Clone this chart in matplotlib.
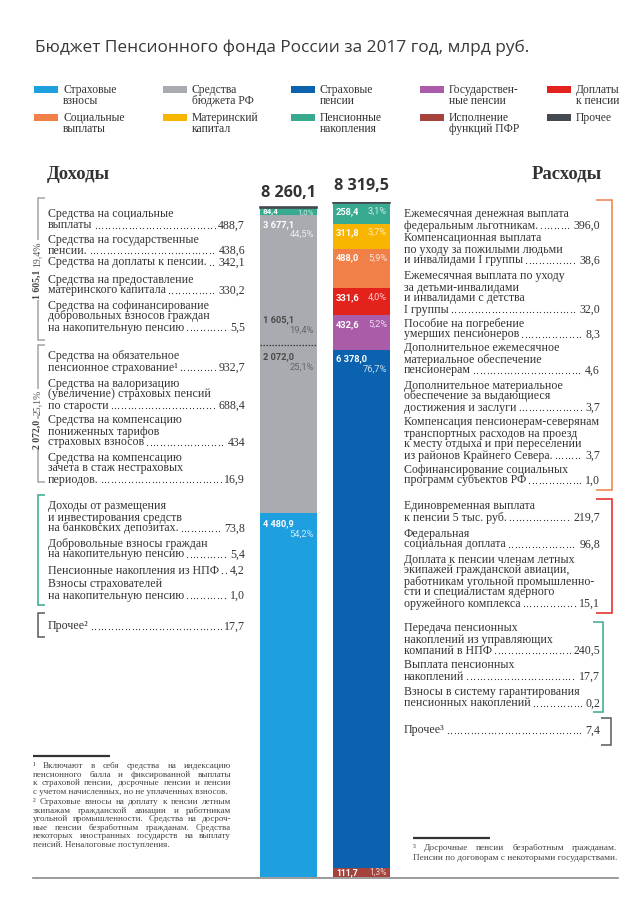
import numpy as np
import matplotlib
matplotlib.use("Agg")
import matplotlib.pyplot as plt
from matplotlib.font_manager import FontProperties
from matplotlib.patches import Rectangle

# ---------------- data ----------------
title = "Бюджет Пенсионного фонда России за 2017 год, млрд руб."

legend_labels = [["Страховые", "взносы"], ["Средства", "бюджета РФ"], ["Страховые", "пенсии"],
                 ["Государствен-", "ные пенсии"], ["Доплаты", "к пенсии"],
                 ["Социальные", "выплаты"], ["Материнский", "капитал"], ["Пенсионные", "накопления"],
                 ["Исполнение", "функций ПФР"], ["Прочее"]]
legend_colors = ["#1d9fe0", "#a8abaf", "#0b63b0", "#aa5ca8", "#e3221b",
                 "#f07f48", "#f7b500", "#37aa8f", "#a5423b", "#454a51"]

income_header = "Доходы"
expense_header = "Расходы"

income_names = ["Страховые взносы", "Средства бюджета РФ (страхование)",
                "Средства бюджета РФ (выплаты)", "Пенсионные накопления", "Прочее"]
income_values = [4480.9, 2072.0, 1605.1, 84.4, 17.7]
income_colors = ["#1d9fe0", "#a8abaf", "#a8abaf", "#37aa8f", "#454a51"]

expense_names = ["Исполнение функций ПФР", "Страховые пенсии", "Государственные пенсии",
                 "Доплаты к пенсии", "Социальные выплаты", "Материнский капитал",
                 "Пенсионные накопления", "Прочее"]
expense_values = [111.7, 6378.0, 432.6, 331.6, 488.0, 311.8, 258.4, 7.4]
expense_colors = ["#a5423b", "#0b63b0", "#aa5ca8", "#e3221b", "#f07f48",
                  "#f7b500", "#37aa8f", "#454a51"]

income_items = [
    ["Средства на социальные", "выплаты"],
    ["Средства на государственные", "пенсии."],
    ["Средства на доплаты к пенсии."],
    ["Средства на предоставление", "материнского капитала"],
    ["Средства на софинансирование", "добровольных взносов граждан", "на накопительную пенсию"],
    ["Средства на обязательное", "пенсионное страхование¹"],
    ["Средства на валоризацию", "(увеличение) страховых пенсий", "по старости"],
    ["Средства на компенсацию", "пониженных тарифов", "страховых взносов"],
    ["Средства на компенсацию", "зачета в стаж нестраховых", "периодов."],
    ["Доходы от размещения", "и инвестирования средств", "на банковских депозитах."],
    ["Добровольные взносы граждан", "на накопительную пенсию"],
    ["Пенсионные накопления из НПФ"],
    ["Взносы страхователей", "на накопительную пенсию"],
    ["Прочее²"],
]
income_item_values = [488.7, 438.6, 342.1, 330.2, 5.5, 932.7, 688.4, 434, 16.9,
                      73.8, 5.4, 4.2, 1.0, 17.7]

expense_items = [
    ["Ежемесячная денежная выплата", "федеральным льготникам."],
    ["Компенсационная выплата", "по уходу за пожилыми людьми", "и инвалидами I группы"],
    ["Ежемесячная выплата по уходу", "за детьми-инвалидами", "и инвалидами с детства", "I группы"],
    ["Пособие на погребение", "умерших пенсионеров"],
    ["Дополнительное ежемесячное", "материальное обеспечение", "пенсионерам"],
    ["Дополнительное материальное", "обеспечение за выдающиеся", "достижения и заслуги"],
    ["Компенсация пенсионерам-северянам", "транспортных расходов на проезд",
     "к месту отдыха и при переселении", "из районов Крайнего Севера."],
    ["Софинансирование социальных", "программ субъектов РФ"],
    ["Единовременная выплата", "к пенсии 5 тыс. руб."],
    ["Федеральная", "социальная доплата"],
    ["Доплата к пенсии членам летных", "экипажей гражданской авиации,",
     "работникам угольной промышленно-", "сти и специалистам ядерного", "оружейного комплекса"],
    ["Передача пенсионных", "накоплений из управляющих", "компаний в НПФ"],
    ["Выплата пенсионных", "накоплений"],
    ["Взносы в систему гарантирования", "пенсионных накоплений"],
    ["Прочее³"],
]
expense_item_values = [396.0, 38.6, 32.0, 8.3, 4.6, 3.7, 3.7, 1.0,
                       219.7, 96.8, 15.1, 240.5, 17.7, 0.2, 7.4]

footnote_left = [
    ("¹ Включают в себя средства на индексацию", True),
    ("пенсионного балла и фиксированной выплаты", True),
    ("к страховой пенсии, досрочные пенсии и пенсии", True),
    ("с учетом начисленных, но не уплаченных взносов.", False),
    ("² Страховые взносы на доплату к пенсии летным", True),
    ("экипажам гражданской авиации и работникам", True),
    ("угольной промышленности. Средства на досроч-", True),
    ("ные пенсии безработным гражданам. Средства", True),
    ("некоторых иностранных государств на выплату", True),
    ("пенсий. Неналоговые поступления.", False),
]
footnote_right = [
    ("³ Досрочные пенсии безработным гражданам.", True),
    ("Пенсии по договорам с некоторыми государствами.", False),
]

# ---------------- layout ----------------
W, H = 635, 900
fig = plt.figure(figsize=(W / 100, H / 100), dpi=100)
fig.patch.set_facecolor("white")
ax = fig.add_axes([0, 0, 1, 1])
ax.set_xlim(0, W)
ax.set_ylim(H, 0)
ax.axis("off")
R = fig.canvas.get_renderer()

SERIF = ["Liberation Serif", "DejaVu Serif"]
SANS = ["Open Sans", "DejaVu Sans"]
NUMF = ["Roboto", "DejaVu Sans"]
TXT = "#333333"


def tw(s, size, family, weight="normal"):
    fp = FontProperties(family=family, size=size, weight=weight)
    w, h, d = R.get_text_width_height_descent(s, fp, ismath=False)
    return w


def fit(s, target, family, weight="normal"):
    return 10 * target / tw(s, 10, family, weight)


def fmt_num(v):
    s = str(v) if isinstance(v, int) else f"{v:,.1f}"
    return s.replace(",", " ").replace(".", ",")


def fmt_pct(v, total):
    return f"{v / total * 100:.1f}".replace(".", ",") + "%"


# title
ts = fit(title, 491, SANS)
ax.text(35, 52, title, fontsize=ts, family=SANS, color="#383838", va="baseline", ha="left")

# legend
LEG = fit("Государствен-", 70, SERIF)
cols_x = [34, 163, 291, 420, 547]
rows_y = [86, 114]
for i, (lab, col) in enumerate(zip(legend_labels, legend_colors)):
    x = cols_x[i % 5]
    y = rows_y[i // 5]
    ax.add_patch(Rectangle((x, y), 24, 7, color=col, lw=0))
    for j, ln in enumerate(lab):
        ax.text(x + 29, y + 7 + j * 11, ln, fontsize=LEG, family=SERIF, color=TXT,
                va="baseline", ha="left")

# headers
HS = fit(income_header, 63, SERIF, "bold")
ax.text(47, 179, income_header, fontsize=HS, family=SERIF, weight="bold", color="#333333",
        va="baseline", ha="left")
ax.text(602, 179, expense_header, fontsize=HS, family=SERIF, weight="bold", color="#333333",
        va="baseline", ha="right")

# lists
BODY = fit("Компенсация пенсионерам-северянам", 192, SERIF)
LS = 11.0


def draw_items(items, vals, ys, x0, xr):
    for lines, v, y in zip(items, vals, ys):
        yy = y
        for i, ln in enumerate(lines):
            yy = y + i * LS
            ax.text(x0, yy + 3.5, ln, fontsize=BODY, family=SERIF, color=TXT,
                    va="baseline", ha="left")
        vs = fmt_num(v)
        ax.text(xr, yy + 3.5, vs, fontsize=BODY, family=SERIF, color=TXT,
                va="baseline", ha="right")
        wl = tw(lines[-1], BODY, SERIF)
        wv = tw(vs, BODY, SERIF)
        xs = np.arange(x0 + wl + 3, xr - wv - 3, 3.4)
        ax.plot(xs, np.full(len(xs), yy + 2.8), ls="none", marker="o", ms=0.9,
                color=TXT, mew=0)


income_item_y = [214, 239, 262, 279, 305, 356, 383, 420, 457, 506, 543, 570, 584, 626]
expense_item_y = [214, 238, 276, 323, 348, 385, 422, 469, 506, 533, 559, 628, 665, 692, 730]
draw_items(income_items, income_item_values, income_item_y, 48, 245)
draw_items(expense_items, expense_item_values, expense_item_y, 404, 600)


def bracket(x, y0, y1, tick, color):
    ax.plot([x + tick, x, x, x + tick], [y0, y0, y1, y1], color=color, lw=1.1,
            solid_joinstyle="miter", solid_capstyle="butt")


GRAYB = "#a0a3a6"
bracket(38, 198, 340, 7, GRAYB)
bracket(38, 345, 482, 7, GRAYB)
bracket(38, 495, 605, 7, income_colors[3])
bracket(38, 613, 637, 7, "#555a60")
bracket(612, 200, 490, -16, expense_colors[4])
bracket(612, 499, 613, -16, expense_colors[3])
bracket(603, 622, 712, -10, expense_colors[6])
bracket(611, 718, 745, -10, "#555a60")

income_total = sum(income_values)
expense_total = sum(expense_values)

# rotated group labels on the left brackets
RS = BODY * 0.82
for val, yv, yp in [(income_values[2], 284, 254), (income_values[1], 434, 402)]:
    ax.text(37, yv, fmt_num(val), rotation=90, fontsize=RS, family=SERIF, weight="bold",
            color="#444", ha="center", va="center",
            bbox=dict(fc="white", ec="none", pad=0.6))
    ax.text(37, yp, fmt_pct(val, income_total), rotation=90, fontsize=RS, family=SERIF,
            color="#555", ha="center", va="center",
            bbox=dict(fc="white", ec="none", pad=0.6))

# totals
TS = fit("8 260,1", 55, SANS, "bold")
ax.text(288.5, 197, fmt_num(income_total), fontsize=TS, family=SANS, weight="bold",
        color="#333333", ha="center", va="baseline")
ax.text(361.5, 190, fmt_num(expense_total), fontsize=TS, family=SANS, weight="bold",
        color="#333333", ha="center", va="baseline")

# ---------------- bars ----------------
y_bot, y_top = 877, 202
bx = fig.add_axes([250 / W, 1 - y_bot / H, 150 / W, (y_bot - y_top) / H])
bx.set_xlim(-38.5 / 73, (150 - 38.5) / 73)
bx.set_ylim(0, expense_total)
bx.axis("off")
BW = 0.78

bottom = 0.0
inc_bottoms = []
for v, c in zip(income_values, income_colors):
    lw = 1.2 if v < 50 else 0
    bx.bar(0, v, width=BW, bottom=bottom, color=c, lw=lw, edgecolor=c)
    inc_bottoms.append(bottom)
    bottom += v

bottom = 0.0
exp_bottoms = []
for v, c in zip(expense_values, expense_colors):
    lw = 1.2 if v < 50 else 0
    bx.bar(1, v, width=BW, bottom=bottom, color=c, lw=lw, edgecolor=c)
    exp_bottoms.append(bottom)
    bottom += v

# dashed separator between the two budget parts
sep = inc_bottoms[1] + income_values[1]
bx.hlines(sep, -BW / 2, BW / 2, colors="#3a3a3a", linestyles=(0, (1.2, 1.2)), lw=0.9)

NS = 6.7


def blab(xc, yv, dy, left, right, lcol, rcol, lw="bold", size=NS, rdy=None):
    if left:
        bx.annotate(left, (xc - BW / 2, yv), xytext=(3, dy), textcoords="offset pixels",
                    fontsize=size, family=NUMF, weight=lw, color=lcol, ha="left", va="center")
    if right:
        bx.annotate(right, (xc + BW / 2, yv), xytext=(-3, dy if rdy is None else rdy),
                    textcoords="offset pixels", fontsize=size, family=NUMF, color=rcol,
                    ha="right", va="center")


WHITE = "white"
LIGHT = (1, 1, 1, 0.78)
# income labels
v = income_values[3]
blab(0, inc_bottoms[3] + v / 2, 0, fmt_num(v), fmt_pct(v, income_total), WHITE, LIGHT, size=5.8)
vb = income_values[1] + income_values[2]
topb = inc_bottoms[2] + income_values[2]
blab(0, topb, -10, fmt_num(vb), None, WHITE, LIGHT)
blab(0, topb, -19, None, fmt_pct(vb, income_total), WHITE, LIGHT)
v = income_values[2]
blab(0, sep, 26, fmt_num(v), None, "#4a4a4a", "#666")
blab(0, sep, 15, None, fmt_pct(v, income_total), "#4a4a4a", "#666666")
v = income_values[1]
blab(0, sep, -11, fmt_num(v), None, "#4a4a4a", "#666")
blab(0, sep, -22, None, fmt_pct(v, income_total), "#4a4a4a", "#666666")
v = income_values[0]
blab(0, v, -10, fmt_num(v), None, WHITE, LIGHT)
blab(0, v, -21, None, fmt_pct(v, income_total), WHITE, LIGHT)

# expense labels
for i, (v, b) in enumerate(zip(expense_values, exp_bottoms)):
    if i == len(expense_values) - 1:
        continue
    top = b + v
    if i == 0:
        blab(1, b + v / 2, 0, fmt_num(v), fmt_pct(v, expense_total), WHITE, LIGHT, size=6.2)
    elif i == 1:
        blab(1, top, -8, fmt_num(v), None, WHITE, LIGHT)
        blab(1, top, -19, None, fmt_pct(v, expense_total), WHITE, LIGHT)
    else:
        blab(1, top, -9, fmt_num(v), fmt_pct(v, expense_total), WHITE, LIGHT)

# ---------------- footnotes ----------------
def justify(lines, x0, x1, y0, step, size):
    for k, (ln, just) in enumerate(lines):
        y = y0 + k * step
        if not just:
            ax.text(x0, y, ln, fontsize=size, family=SERIF, color="#444", va="baseline", ha="left")
            continue
        words = ln.split(" ")
        ws = [tw(w_, size, SERIF) for w_ in words]
        gap = (x1 - x0 - sum(ws)) / max(len(words) - 1, 1)
        x = x0
        for w_, ww in zip(words, ws):
            ax.text(x, y, w_, fontsize=size, family=SERIF, color="#444", va="baseline", ha="left")
            x += ww + gap


FN = fit("с учетом начисленных, но не уплаченных взносов.", 196, SERIF)
ax.plot([33, 110], [756, 756], color="#333", lw=1.6, solid_capstyle="butt")
justify(footnote_left[:4], 33, 231, 768, 8.6, FN)
justify(footnote_left[4:], 33, 231, 804, 8.6, FN)
FN2 = fit("Пенсии по договорам с некоторыми государствами.", 204, SERIF)
ax.plot([413, 490], [838, 838], color="#333", lw=1.6, solid_capstyle="butt")
justify(footnote_right, 413, 617, 850.5, 9.5, FN2)

# bottom rule
ax.plot([33, 618], [877.5, 877.5], color="#8a8a8a", lw=1.2, zorder=0)

fig.savefig("out.png", dpi=100, facecolor="white")
